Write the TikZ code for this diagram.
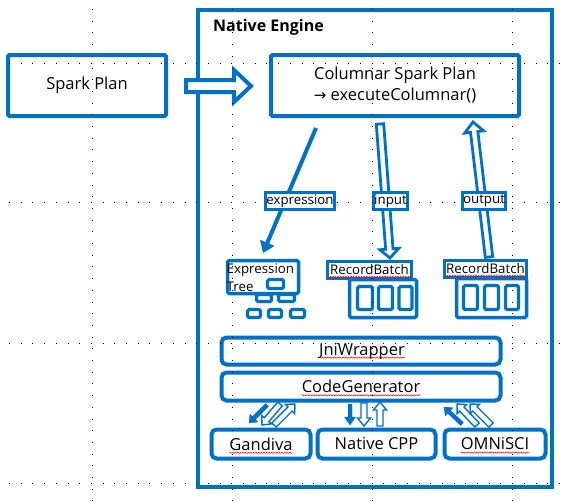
\documentclass[tikz,border=0pt]{standalone}
\usepackage{fontspec}
\setmainfont{Open Sans}
\newfontfamily\arrowfont{DejaVu Sans}
\usetikzlibrary{arrows.meta,calc,decorations.pathmorphing}
\definecolor{eblue}{RGB}{0,113,197}
% block arrow: [style]{from}{to}{half shaft}{half head}{head length}
\newcommand\barrow[6][]{%
\draw[#1] let \p1=(#2), \p2=(#3), \n1={atan2(\y2-\y1,\x2-\x1)}, \n2={veclen(\x2-\x1,\y2-\y1)} in
 ([shift={(\p1)},rotate=\n1]0,-#4) -- ([shift={(\p1)},rotate=\n1]\n2-#6,-#4)
 -- ([shift={(\p1)},rotate=\n1]\n2-#6,-#5) -- (\p2)
 -- ([shift={(\p1)},rotate=\n1]\n2-#6,#5) -- ([shift={(\p1)},rotate=\n1]\n2-#6,#4)
 -- ([shift={(\p1)},rotate=\n1]0,#4) -- cycle;}
\begin{document}
\begin{tikzpicture}[x=1pt,y=-1pt,
  mainfs/.style={font=\fontsize{16.5}{21}\selectfont},
  smallfs/.style={font=\fontsize{13.3}{16}\selectfont},
  box/.style={draw=eblue, line width=4, fill=white, inner sep=0, rounded corners=1.5},
  rbox/.style={box, rounded corners=5},
  lbl/.style={draw=eblue, line width=3, fill=white, inner sep=0.6, minimum height=17, smallfs},
  sbox/.style={draw=eblue, line width=3.2, fill=white, inner sep=0, rounded corners=1.5},
  txt/.style={inner sep=0},
  hollowbig/.style={draw=eblue, fill=white, line width=4, line join=miter},
  hollowmid/.style={draw=eblue, fill=white, line width=2.8, line join=miter},
  hollowsmall/.style={draw=eblue, fill=white, line width=1.4, line join=miter},
  fillarr/.style={draw=eblue, fill=eblue, line width=0.4, line join=miter},
  squig/.style={draw=red, line width=0.5, decorate, decoration={snake, amplitude=0.6, segment length=2.6}},
  gridline/.style={draw=black, line width=0.9, dash pattern=on 0.9pt off 10.8pt, dash phase=-9pt}
]
\useasboundingbox (0,0) rectangle (569,501);
\fill[white] (0,0) rectangle (569,501);

% Native Engine frame
\node[box, rounded corners=0, minimum width=354, minimum height=477] (ne) at (375,248.5) {};
\node[txt, anchor=base west, font=\fontsize{16}{18}\selectfont\bfseries] (netitle) at (213,31.5) {Native Engine};

% Spark plan and Columnar spark plan
\node[box, minimum width=158, minimum height=61, mainfs] (spark) at (87,85.5) {Spark Plan};
\node[box, minimum width=248, minimum height=61, mainfs, align=center] (col) at (395,85.5)
  {Columnar Spark Plan\\{\arrowfont\fontsize{15}{21}\selectfont →} executeColumnar()};

\coordinate (sa) at (186,86);
\coordinate (sb) at (251,86);
\barrow[hollowbig]{sa}{sb}{6}{16}{17}

% connectors from the columnar plan
\coordinate (ea) at (316,128);
\coordinate (eb) at (263,253);
\draw[eblue, line width=4, -{Triangle[width=15pt,length=11pt]}] (ea) -- (eb);
\coordinate (ia) at (380,124);
\coordinate (ib) at (390,258);
\barrow[hollowmid]{ia}{ib}{3.7}{9.5}{9}
\coordinate (oa) at (489,257);
\coordinate (ob) at (473,122);
\barrow[hollowmid]{oa}{ob}{3.7}{9.5}{10}

\node[lbl] (lexp) at (300,201) {expression};
\node[lbl] (lin) at (390.5,201) {input};
\node[lbl] (lout) at (484,201) {output};

% Expression tree
\node[box, line width=3.5, minimum width=71, minimum height=33] (etbox) at (263,277) {};
\node[txt, anchor=base west, smallfs] (etA) at (226.5,273) {Expression};
\node[txt, anchor=base west, smallfs] (etB) at (226.5,291) {Tree};
\node[sbox, minimum width=16, minimum height=9] (t1) at (275.5,284) {};
\node[sbox, minimum width=15, minimum height=7] (t2a) at (264,298) {};
\node[sbox, minimum width=16, minimum height=7] (t2b) at (286.5,298) {};
\node[sbox, minimum width=13, minimum height=8] (t3a) at (254,313.5) {};
\node[sbox, minimum width=13, minimum height=8] (t3b) at (275,313.5) {};
\node[sbox, minimum width=14, minimum height=8] (t3c) at (297.5,313.5) {};

% RecordBatch (input)
\node[box, line width=3.5, minimum width=67, minimum height=38] (rb1box) at (383,298.5) {};
\node[sbox, minimum width=15, minimum height=23] (rb1a) at (365,298) {};
\node[sbox, minimum width=14, minimum height=23] (rb1b) at (385.5,298) {};
\node[sbox, minimum width=13, minimum height=23] (rb1c) at (405.5,298) {};
\node[lbl, minimum width=84] (rb1) at (369.5,269.5) {RecordBatch};

% RecordBatch (output)
\node[box, line width=3.5, minimum width=70, minimum height=39] (rb2box) at (491.5,298) {};
\node[sbox, minimum width=14, minimum height=24] (rb2a) at (470.5,297.5) {};
\node[sbox, minimum width=14, minimum height=24] (rb2b) at (491.5,297.5) {};
\node[sbox, minimum width=13, minimum height=24] (rb2c) at (512,297.5) {};
\node[lbl, minimum width=82] (rb2) at (485.5,268.5) {RecordBatch};

% JniWrapper / CodeGenerator
\node[rbox, minimum width=279, minimum height=27] (jni) at (361,351) {};
\node[txt, mainfs] (jniT) at (362,351) {JniWrapper};
\node[rbox, minimum width=279, minimum height=28] (cg) at (361,386.5) {};
\node[txt, mainfs] (cgT) at (361,386.5) {CodeGenerator};

% back ends
\node[rbox, minimum width=99, minimum height=29] (gan) at (261,444) {};
\node[txt, mainfs] (ganT) at (261,444) {Gandiva};
\node[rbox, minimum width=118, minimum height=29, mainfs] (cpp) at (376.5,444) {Native CPP};
\node[rbox, minimum width=101, minimum height=29] (omn) at (495,444) {};
\node[txt, mainfs] (omnT) at (495,444) {OMNiSCI};

% arrows CodeGenerator <-> back ends
\coordinate (g1a) at (267,405); \coordinate (g1b) at (249,423);
\coordinate (g2a) at (280,404); \coordinate (g2b) at (262,425);
\coordinate (g3a) at (274,425); \coordinate (g3b) at (295,404);
\barrow[fillarr]{g1a}{g1b}{2}{5.5}{7}
\barrow[hollowsmall]{g2a}{g2b}{3}{6.5}{7}
\barrow[hollowsmall]{g3a}{g3b}{3}{6.5}{7}

\coordinate (n1a) at (350,404); \coordinate (n1b) at (350,425);
\coordinate (n2a) at (364,403); \coordinate (n2b) at (364,426);
\coordinate (n3a) at (380,426); \coordinate (n3b) at (380,402);
\barrow[fillarr]{n1a}{n1b}{2}{5.5}{8}
\barrow[hollowsmall]{n2a}{n2b}{3}{6.5}{8}
\barrow[hollowsmall]{n3a}{n3b}{3}{6.5}{8}

\coordinate (m1a) at (462,424); \coordinate (m1b) at (444,407);
\coordinate (m2a) at (477,425); \coordinate (m2b) at (457,404);
\coordinate (m3a) at (491,425); \coordinate (m3b) at (470,404);
\barrow[fillarr]{m1a}{m1b}{2}{5.5}{7}
\barrow[hollowsmall]{m2a}{m2b}{3}{6.5}{7}
\barrow[hollowsmall]{m3a}{m3b}{3}{6.5}{7}

% spell-check underlines
\foreach \nm in {jniT,cgT,ganT,omnT}
  \draw[squig] ([yshift=-2.6pt]\nm.base west) -- ([yshift=-2.6pt]\nm.base east);
\draw[squig] ([xshift=1pt,yshift=-2.4pt]rb1.base west) -- ([xshift=-1pt,yshift=-2.4pt]rb1.base east);
\draw[squig] ([xshift=1pt,yshift=-2.4pt]rb2.base west) -- ([xshift=-1pt,yshift=-2.4pt]rb2.base east);

% guide grid
\foreach \gx in {92,232,372,512} \draw[gridline] (\gx,0) -- (\gx,501);
\foreach \gy in {63,202,343,483} \draw[gridline] (0,\gy) -- (569,\gy);
\end{tikzpicture}
\end{document}
